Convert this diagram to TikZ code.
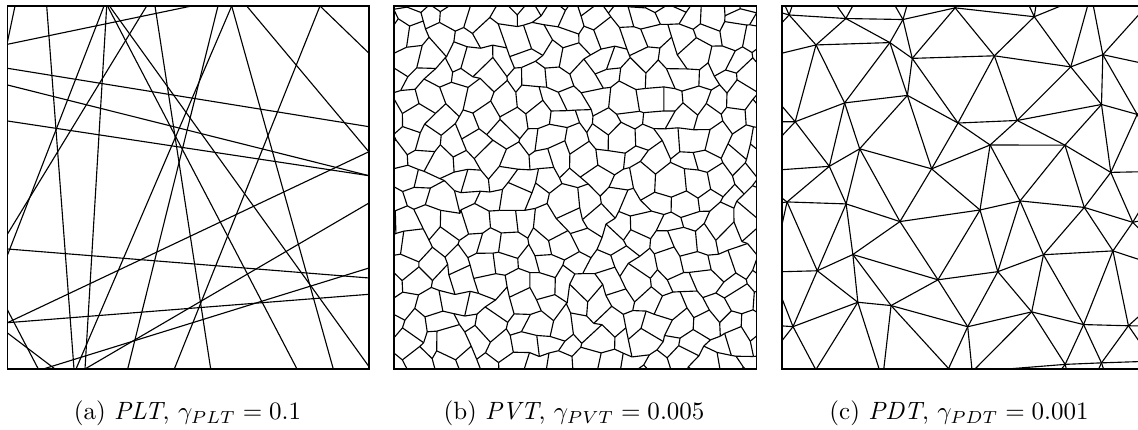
\documentclass[tikz,border=0pt]{standalone}
\usepackage{tikz}

\begin{document}
\begin{tikzpicture}[x=0.4pt,y=-0.4pt,
  cut/.style={line width=0.45pt,line join=round},
  frame/.style={line width=0.6pt},
  subcap/.style={font=\normalsize,anchor=base,inner sep=0pt}]
\useasboundingbox (0,0) rectangle (1138,430);

% (a) Poisson lines
\foreach \xa/\ya/\xb/\yb in {15/6/7.5/41.7, 7.5/44.3/191.7/6, 46.7/6/74/369,
  106.7/6/85/369, 109.5/6/369/366.7, 7.5/68.3/369/126.7, 7.5/85/369/175.7,
  7.5/121/369/175.7, 7.5/234/146.7/6, 7.5/255/104/6, 7.5/249/369/278,
  7.5/310/38.3/369, 7.5/322.7/369/294.3, 7.5/322.7/369/151.7, 7.5/333/55/369,
  43.3/369/369/268, 76/369/231.7/6, 218/6/127.7/369, 174.3/369/320/6,
  320/6/369/53.3, 246.7/6/369/152, 231.7/6/333.3/369, 155/6/210.7/369,
  85/369/369/203, 107.5/6/297/369}
  \draw[cut] (\xa,\ya) -- (\xb,\yb);
\draw[frame] (7.5,6) rectangle (369,369);
\node[subcap] (capa) at (187.5,420) {(a) \textit{PLT}, $\gamma_{PLT}=0.1$};

% (b) Voronoi cells
\pgfmathsetseed{23}
\foreach \i in {-1,...,31}
  \foreach \j in {-1,...,18} {
    \pgfmathsetmacro\lift{3.6-7.2*mod(\i+\j+10,2)}
    \coordinate (b-\i-\j) at ({394+12*\i+6*rand},{6+20.5*\j+\lift+6.5*rand});
  }
\begin{scope}
\clip (394,6) rectangle (756.5,369);
\foreach \i in {-1,...,30}
  \foreach \j in {-1,...,18} {
    \pgfmathtruncatemacro\k{\i+1}
    \draw[cut] (b-\i-\j) -- (b-\k-\j);
  }
\foreach \i in {-1,...,31}
  \foreach \j in {-1,...,17} {
    \pgfmathtruncatemacro\m{\j+1}
    \pgfmathtruncatemacro\parity{mod(\i+\j+10,2)}
    \ifnum\parity=0 \draw[cut] (b-\i-\j) -- (b-\i-\m);\fi
  }
\end{scope}
\draw[frame] (394,6) rectangle (756.5,369);
\node[subcap] (capb) at (574,420) {(b) \textit{PVT}, $\gamma_{PVT}=0.005$};

% (c) Delaunay triangles
\pgfmathsetseed{11}
\foreach \i in {-1,...,7}
  \foreach \j in {-1,...,8} {
    \pgfmathsetmacro\shift{30*mod(\j+10,2)}
    \coordinate (c-\i-\j) at ({782+60*\i+\shift+20*rand},{6+52*\j+17*rand});
  }
\begin{scope}
\clip (782,6) rectangle (1144,369);
\foreach \i in {-1,...,6}
  \foreach \j in {-1,...,8} {
    \pgfmathtruncatemacro\k{\i+1}
    \draw[cut] (c-\i-\j) -- (c-\k-\j);
  }
\foreach \i in {-1,...,7}
  \foreach \j in {-1,...,7} {
    \pgfmathtruncatemacro\k{\i+1}
    \pgfmathtruncatemacro\l{\i-1}
    \pgfmathtruncatemacro\m{\j+1}
    \draw[cut] (c-\i-\j) -- (c-\i-\m);
    \pgfmathtruncatemacro\parity{mod(\j+10,2)}
    \ifnum\parity=0
      \ifnum\i>-1 \draw[cut] (c-\i-\j) -- (c-\l-\m);\fi
    \else
      \ifnum\i<7 \draw[cut] (c-\i-\j) -- (c-\k-\m);\fi
    \fi
  }
\end{scope}
\draw[frame] (782,6) rectangle (1144,369);
\node[subcap] (capc) at (959,420) {(c) \textit{PDT}, $\gamma_{PDT}=0.001$};
\end{tikzpicture}
\end{document}
